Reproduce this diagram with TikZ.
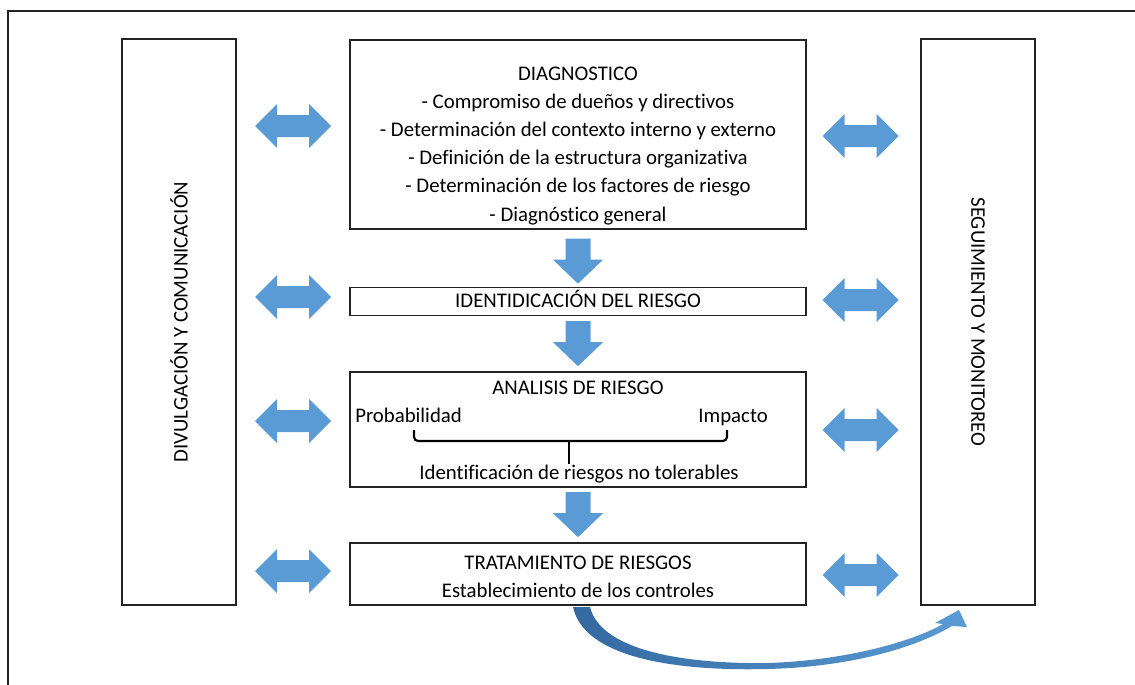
\documentclass[tikz,border=0pt]{standalone}
\usepackage{fontspec}
\setmainfont{Carlito}[Ligatures=NoCommon]
\usetikzlibrary{calc}
\definecolor{flecha}{RGB}{91,155,213}
\definecolor{flechaosc}{RGB}{52,105,160}
\definecolor{borde}{RGB}{35,35,35}

\tikzset{
  caja/.style={draw=borde, line width=1.2pt, minimum width=342pt, inner sep=0pt},
  lado/.style={draw=borde, line width=1.2pt, minimum width=85.5pt, minimum height=424.5pt, inner sep=0pt},
  txt/.style={font=\fontsize{15.6}{18}\selectfont, inner sep=0pt},
  bracket/.style={draw=black, line width=1.6pt, rounded corners=3pt},
  pics/bajar/.style={code={
    \fill[flecha] (-12.5,-45) -- (12.5,-45) -- (12.5,-24) -- (25,-24) -- (0,0) -- (-25,-24) -- (-12.5,-24) -- cycle;}},
  pics/doble/.style={code={
    \fill[flecha] (-38,0) -- (-16,-22) -- (-16,-11) -- (16,-11) -- (16,-22) -- (38,0) -- (16,22) -- (16,11) -- (-16,11) -- (-16,22) -- cycle;}}
}

\begin{document}
\begin{tikzpicture}[x=0.75pt,y=-0.75pt]
\useasboundingbox (0,0) rectangle (1135,685);

% marco
\draw[borde, line width=1.2pt] (8,700) -- (8,11) -- (1150,11);

% columnas laterales
\node[lado] (dv) at (179,322) {};
\node[lado] (seg) at (978,322) {};
\node[txt, rotate=90] (dvtxt) at (dv.center) {DIVULGACIÓN Y COMUNICACIÓN};
\node[txt, rotate=-90] (segtxt) at (seg.center) {SEGUIMIENTO Y MONITOREO};

% etapas
\node[caja, minimum height=141.75pt] (diag) at (578,134.5) {};
\node[caja, minimum height=21pt] (ident) at (578,301.5) {};
\node[caja, minimum height=86.25pt] (anal) at (578,429.5) {};
\node[caja, minimum height=46.5pt] (trat) at (578,574) {};

\foreach \t [count=\i from 0] in {DIAGNOSTICO, - Compromiso de dueños y directivos,
    - Determinación del contexto interno y externo, - Definición de la estructura organizativa,
    - Determinación de los factores de riesgo, - Diagnóstico general}
  \node[txt, anchor=base] (d\i) at (578,80+28.2*\i) {\t};

\node[txt, anchor=base] (identtxt) at (578,307) {IDENTIDICACIÓN DEL RIESGO};
\node[txt, anchor=base] (analtxt) at (578,394) {ANALISIS DE RIESGO};
\node[txt, anchor=base west] (prob) at (355,422) {Probabilidad};
\node[txt, anchor=base east] (imp) at (768,422) {Impacto};
\node[txt, anchor=base] (tol) at (579,479) {Identificación de riesgos no tolerables};
\node[txt, anchor=base] (trat1) at (578,569) {TRATAMIENTO DE RIESGOS};
\node[txt, anchor=base] (trat2) at (578,597) {Establecimiento de los controles};

% llave
\draw[bracket] (414,430) -- (414,441) -- (727,441) -- (727,430);
\draw[bracket, rounded corners=0pt] (569,441) -- (tol.north -| 569,0);

% flechas hacia abajo
\pic at ($(ident.north)+(0,-3)$) {bajar};
\pic at ($(anal.north)+(0,-5)$) {bajar};
\pic at ($(trat.north)+(0,-5)$) {bajar};

% flechas dobles
\foreach \fila/\dl/\dr in {diag/-8.5/1.5, ident/-4.5/-1.5, anal/-8.5/0.5, trat/-3/1} {
  \pic at ($(dv.east |- \fila.west)!0.5!(\fila.west)+(0,\dl)$) {doble};
  \pic at ($(\fila.east)!0.5!(seg.west |- \fila.east)+(-3,\dr)$) {doble};
}

% flecha curva
\shade[left color=flechaosc, right color=flecha] (573,607) .. controls (585,662) and (690,671) .. (767,669)
  .. controls (850,667) and (915,648) .. (952,626) -- (967,627) -- (959,610) -- (935,623) -- (943,624)
  .. controls (910,643) and (840,661) .. (767,663) .. controls (700,664) and (602,655) .. (590,607) -- cycle;
\end{tikzpicture}
\end{document}
